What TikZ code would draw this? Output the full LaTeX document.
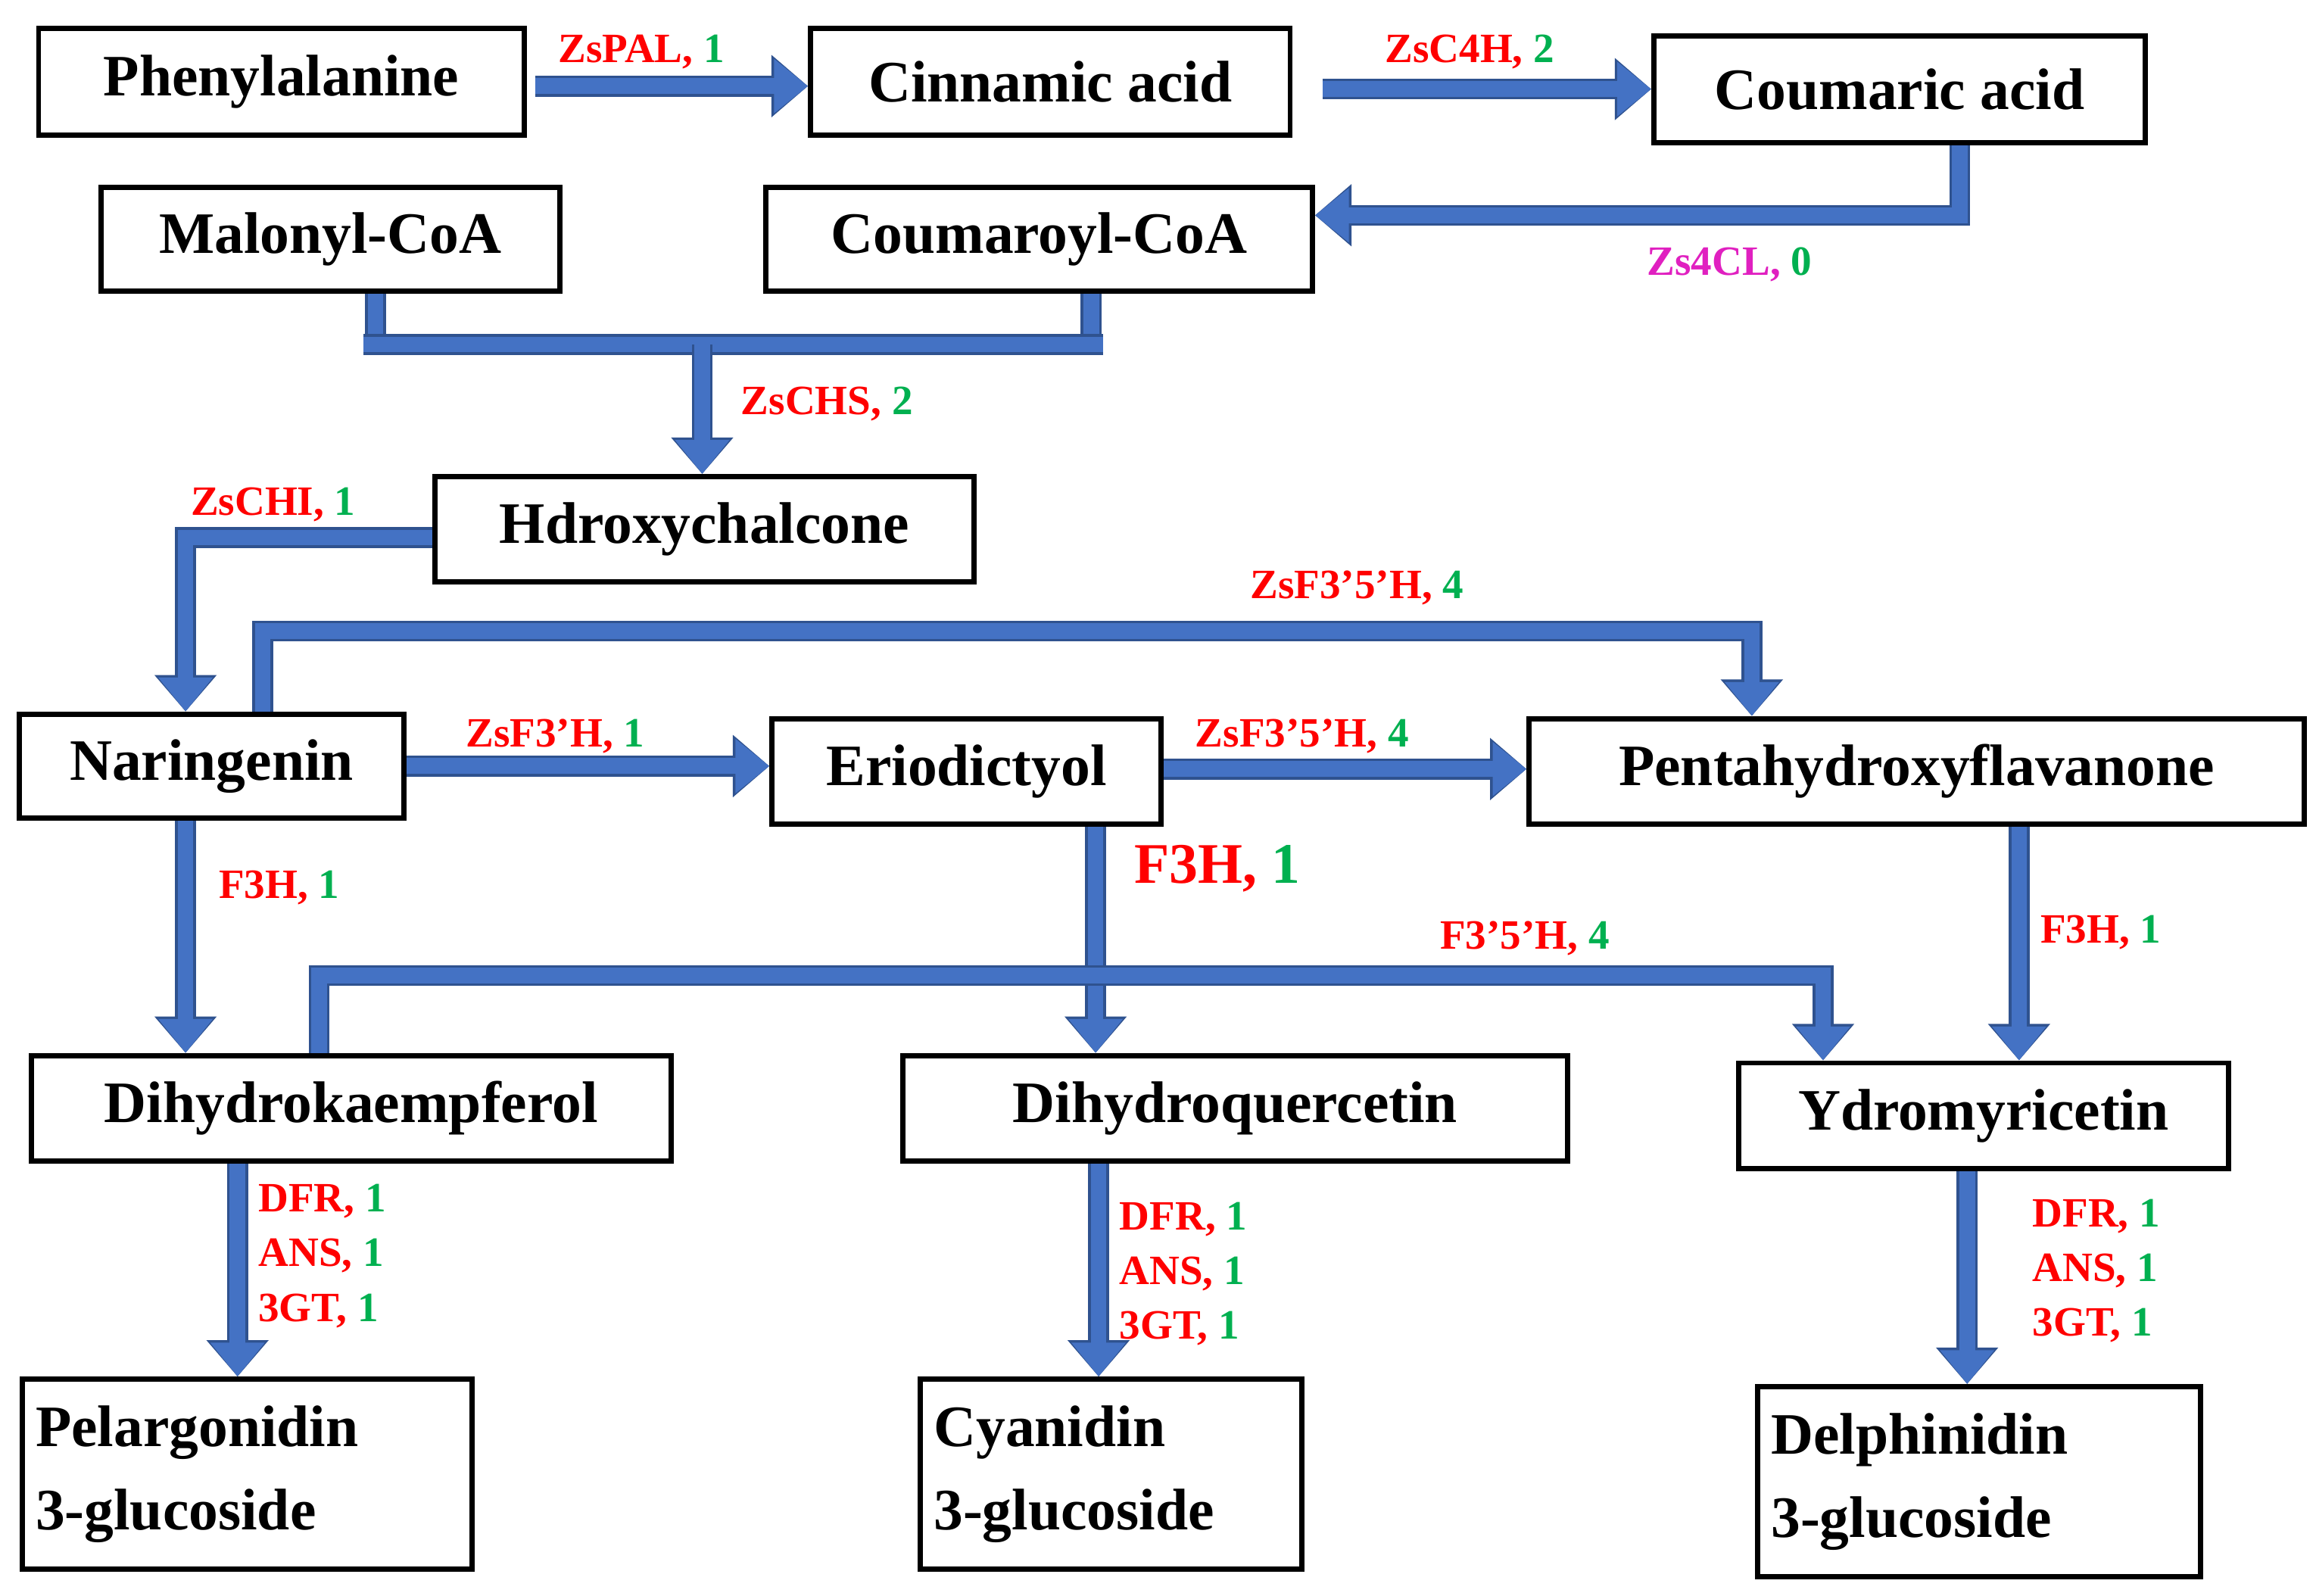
\documentclass[tikz,border=0pt]{standalone}
\usepackage{fontspec}
\setmainfont{Liberation Serif}
\usetikzlibrary{arrows.meta,calc}
\definecolor{arrowblue}{HTML}{4472C4}
\definecolor{arrowdark}{HTML}{2F528F}
\definecolor{grn}{HTML}{00B050}
\definecolor{mag}{HTML}{E020C0}
\newcommand{\lab}[2]{{\color{red}#1, }{\color{grn}#2}}
\begin{document}
\begin{tikzpicture}[x=0.02cm, y=-0.02cm,
  box/.style={draw, line width=2pt, inner sep=0pt, font=\fontsize{22.5}{32}\selectfont\bfseries},
  flow/.style={draw=arrowblue, line width=6pt, -{Triangle[length=13pt,width=20pt]},
               preaction={draw=arrowdark, line width=8pt, -{Triangle[length=14pt,width=23pt]}}},
  link/.style={draw=arrowblue, line width=6pt, preaction={draw=arrowdark, line width=8pt}},
  lbl/.style={font=\fontsize{16}{21}\selectfont\bfseries, inner sep=1pt},
  ann/.style={lbl, anchor=west, align=left}]

\useasboundingbox (0,0) rectangle (1560,1075);

%% compounds
\node[box, minimum width=327*0.02cm, minimum height=72*0.02cm] (phe) at (189.5,55) {Phenylalanine};
\node[box, minimum width=323*0.02cm, minimum height=72*0.02cm] (cin) at (707.5,55) {Cinnamic acid};
\node[box, minimum width=331*0.02cm, minimum height=72*0.02cm] (cou) at (1279.5,60) {Coumaric acid};
\node[box, minimum width=309*0.02cm, minimum height=70*0.02cm] (mal) at (222.5,161) {Malonyl-CoA};
\node[box, minimum width=368*0.02cm, minimum height=70*0.02cm] (coa) at (700,161) {Coumaroyl-CoA};
\node[box, minimum width=363*0.02cm, minimum height=71*0.02cm] (hdc) at (474.5,356.5) {Hdroxychalcone};
\node[box, minimum width=259*0.02cm, minimum height=70*0.02cm] (nar) at (142.5,516) {Naringenin};
\node[box, minimum width=262*0.02cm, minimum height=71*0.02cm] (eri) at (651,519.5) {Eriodictyol};
\node[box, minimum width=522*0.02cm, minimum height=71*0.02cm] (pen) at (1291,519.5) {Pentahydroxyflavanone};
\node[box, minimum width=431*0.02cm, minimum height=71*0.02cm] (dhk) at (236.5,746.5) {Dihydrokaempferol};
\node[box, minimum width=448*0.02cm, minimum height=71*0.02cm] (dhq) at (832,746.5) {Dihydroquercetin};
\node[box, minimum width=330*0.02cm, minimum height=71*0.02cm] (ydr) at (1336,751.5) {Ydromyricetin};
\node[box, minimum width=303*0.02cm, minimum height=128*0.02cm, text width=285*0.02cm, align=left] (pel) at (166.5,993) {Pelargonidin\\3-glucoside};
\node[box, minimum width=257*0.02cm, minimum height=128*0.02cm, text width=239*0.02cm, align=left] (cya) at (748.5,993) {Cyanidin\\3-glucoside};
\node[box, minimum width=298*0.02cm, minimum height=128*0.02cm, text width=280*0.02cm, align=left] (del) at (1333,998) {Delphinidin\\3-glucoside};

%% bend points
\coordinate (b4cl) at (1320,145);
\coordinate (jmal) at (253,232);
\coordinate (jcoa) at (735,232);
\coordinate (jchs) at (473,232);
\coordinate (bchi) at (125,362);
\coordinate (b35a) at (177,425);
\coordinate (b35b) at (1180,425);
\coordinate (b35c) at (215,657);
\coordinate (b35d) at (1228,657);

%% reactions
\draw[flow] (phe.east) ++(6,3) -- (cin.west |- 0,58);
\draw[flow] (cin.east) ++(20,5) -- (cou.west |- 0,60);
\draw[flow] (cou.south -| b4cl) |- (coa.east |- b4cl);
\draw[link] (mal.south -| jmal) -- (jmal);
\draw[link] (coa.south -| jcoa) -- (jcoa);
\draw[link] ([xshift=-8*0.02cm]jmal) -- ([xshift=8*0.02cm]jcoa);
\draw[flow] (jchs) -- (hdc.north -| jchs);
\draw[flow] (hdc.west |- bchi) -| (nar.north -| bchi);
\draw[flow] (nar.north -| b35a) |- (b35b) -- (pen.north -| b35b);
\draw[flow] (nar.east) -- (eri.west |- nar.east);
\draw[flow] (eri.east |- 0,518) -- (pen.west |- 0,518);
\draw[flow] (nar.south -| bchi) -- (dhk.north -| bchi);
\draw[flow] (eri.south -| 738,0) -- (dhq.north -| 738,0);
\draw[flow] (pen.south -| 1360,0) -- (ydr.north -| 1360,0);
\draw[flow] (dhk.north -| b35c) |- (b35d) -- (ydr.north -| b35d);
\draw[flow] (dhk.south -| 160,0) -- (pel.north -| 160,0);
\draw[flow] (dhq.south -| 740,0) -- (cya.north -| 740,0);
\draw[flow] (ydr.south -| 1325,0) -- (del.north -| 1325,0);

%% enzymes
\node[lbl] (l1) at (432,35) {\lab{ZsPAL}{1}};
\node[lbl] (l2) at (990,35) {\lab{ZsC4H}{2}};
\node[lbl] (l3) at (1165,178) {{\color{mag}Zs4CL, }{\color{grn}0}};
\node[lbl] (l4) at (557,272) {\lab{ZsCHS}{2}};
\node[lbl] (l5) at (184,340) {\lab{ZsCHI}{1}};
\node[lbl] (l6) at (914,396) {\lab{ZsF3’5’H}{4}};
\node[lbl] (l7) at (374,496) {\lab{ZsF3’H}{1}};
\node[lbl] (l8) at (877,496) {\lab{ZsF3’5’H}{4}};
\node[lbl] (l9) at (188,598) {\lab{F3H}{1}};
\node[lbl, font=\fontsize{22}{26}\selectfont\bfseries] (l10) at (820,585) {\lab{F3H}{1}};
\node[lbl] (l11) at (1415,628) {\lab{F3H}{1}};
\node[lbl] (l12) at (1027,632) {\lab{F3’5’H}{4}};
\node[ann] (l13) at (172,846) {\lab{DFR}{1}\\\lab{ANS}{1}\\\lab{3GT}{1}};
\node[ann] (l14) at (752,858) {\lab{DFR}{1}\\\lab{ANS}{1}\\\lab{3GT}{1}};
\node[ann] (l15) at (1367,856) {\lab{DFR}{1}\\\lab{ANS}{1}\\\lab{3GT}{1}};

\end{tikzpicture}
\end{document}
